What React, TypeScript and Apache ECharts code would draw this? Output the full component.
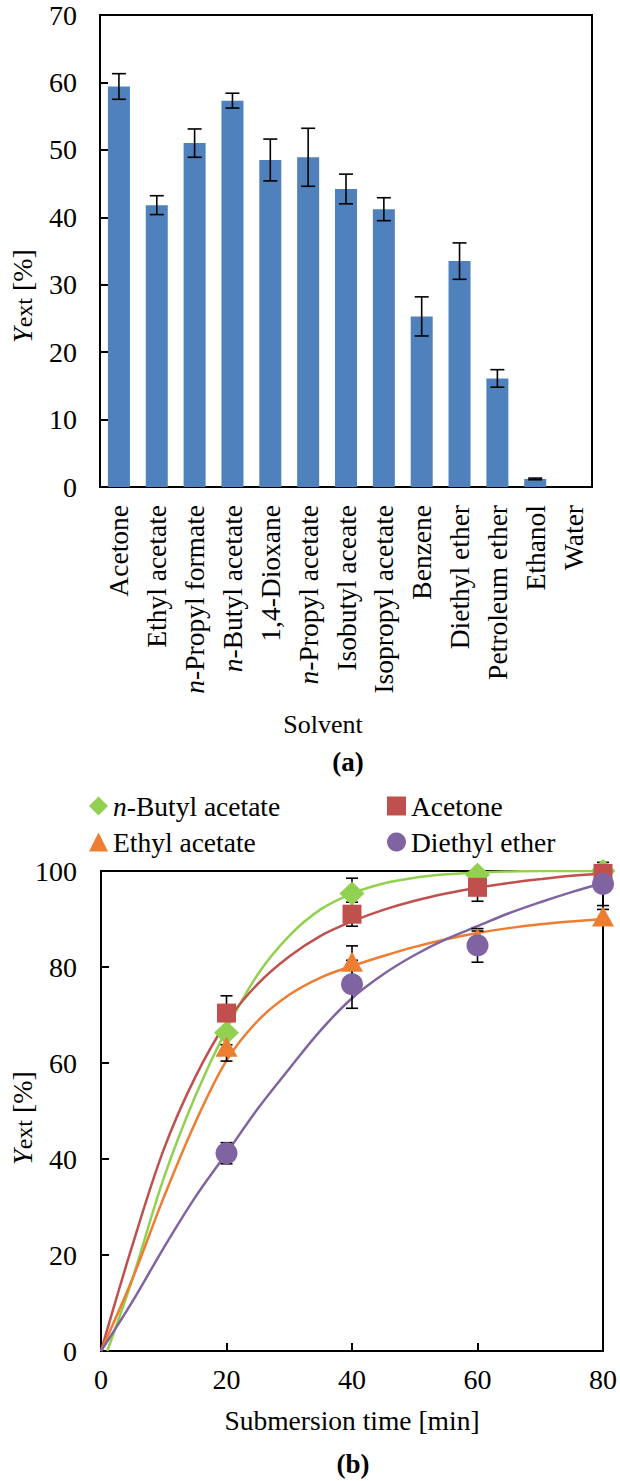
import React, { useEffect, useRef } from "react";
import * as echarts from "echarts";

// ---------- Panel (a): extraction yield by solvent ----------
const solvents = [
  "Acetone",
  "Ethyl acetate",
  "n-Propyl formate",
  "n-Butyl acetate",
  "1,4-Dioxane",
  "n-Propyl acetate",
  "Isobutyl aceate",
  "Isopropyl acetate",
  "Benzene",
  "Diethyl ether",
  "Petroleum ether",
  "Ethanol",
  "Water",
];
const yieldValues = [59.4, 41.8, 51.0, 57.3, 48.5, 48.9, 44.2, 41.2, 25.3, 33.5, 16.1, 1.2, 0];
const yieldErrors = [1.9, 1.4, 2.1, 1.1, 3.1, 4.3, 2.2, 1.7, 2.9, 2.7, 1.3, 0.12, 0];

// ---------- Panel (b): yield vs submersion time ----------
const timePoints = [20, 40, 60, 80];
const butylY = [66.3, 95.3, 99.2, 100];
const butylErr = [2.5, 3.2, 1.0, 0.3];
const acetoneY = [70.4, 91.0, 96.6, 99.5];
const acetoneErr = [3.6, 2.5, 2.9, 0.5];
const ethylY = [63.4, 81.1, 86.0, 90.5];
const ethylErr = [3.0, 3.3, 1.5, 1.5];
const etherY = [41.2, 76.4, 84.5, 97.3];
const etherErr = [2.2, 5.0, 3.5, 4.5];

// fitted curves (every 5 min)
const fitTimes = [0, 5, 10, 15, 20, 25, 30, 35, 40, 45, 50, 55, 60, 65, 70, 75, 80];
const butylFitTimes = [1, 5, 10, 15, 20, 25, 30, 35, 40, 45, 50, 55, 60, 65, 70, 75, 80];
const butylFit = [0, 15, 36, 53, 67, 78.5, 86.5, 92, 95.3, 97.4, 98.6, 99.3, 99.7, 99.9, 100, 100, 100];
const acetoneFit = [0, 22, 42, 57, 68.5, 76.5, 82.2, 86.5, 89.5, 91.9, 93.8, 95.3, 96.5, 97.5, 98.3, 99, 99.5];
const ethylFit = [0, 15, 32, 47.5, 60.5, 68.8, 74.2, 77.8, 80.2, 82.3, 84.2, 85.8, 87.1, 88.1, 88.9, 89.5, 90];
const etherFit = [0, 10.3, 21.5, 32, 41.2, 50.5, 58.8, 66.8, 73.5, 78.5, 82.5, 85.8, 88.5, 91.2, 93.5, 95.6, 97.5];

const FONT = "Liberation Serif";
const FS = 27.5;
const TFS = 28;
const GREEN = "#92D050";
const RED = "#C0504D";
const ORANGE = "#ED7D31";
const PURPLE = "#8064A2";
const BLUE = "#4F81BD";

const zip = (xs: number[], ys: number[]) => xs.map((x, i) => [x, ys[i]]);
const zip3 = (xs: number[], ys: number[], es: number[]) => xs.map((x, i) => [x, ys[i], es[i]]);

const errorBar = (capHalf: number) => (params: any, api: any) => {
  const x = api.value(0);
  const y = api.value(1);
  const e = api.value(2);
  const hi = api.coord([x, y + e]);
  const lo = api.coord([x, y - e]);
  const style = { stroke: "#000", lineWidth: 1.6 };
  return {
    type: "group",
    children: [
      { type: "line", shape: { x1: hi[0], y1: hi[1], x2: lo[0], y2: lo[1] }, style },
      { type: "line", shape: { x1: hi[0] - capHalf, y1: hi[1], x2: hi[0] + capHalf, y2: hi[1] }, style },
      { type: "line", shape: { x1: lo[0] - capHalf, y1: lo[1], x2: lo[0] + capHalf, y2: lo[1] }, style },
    ],
  };
};

const italicN = (v: string) => (v.startsWith("n-") ? "{i|n}-" + v.slice(2) : v);

const baseText = { fontFamily: FONT, fontSize: FS, color: "#000" };

export default function App() {
  const ref = useRef<HTMLDivElement>(null);
  useEffect(() => {
    document.body.style.margin = "0";
    if (!ref.current) return;
    const chart = echarts.init(ref.current, undefined, { renderer: "svg" });

    const axisLine = { show: true, lineStyle: { color: "#000", width: 2 } };
    const yRich = {
      i: { fontFamily: FONT, fontSize: 28, fontStyle: "italic", lineHeight: 32, verticalAlign: "bottom", color: "#000" },
      s: { fontFamily: FONT, fontSize: 24, lineHeight: 26, verticalAlign: "bottom", color: "#000" },
      r: { fontFamily: FONT, fontSize: 28, lineHeight: 32, verticalAlign: "bottom", color: "#000" },
    };

    const legendItem = (name: string, left: number, top: number, formatter?: any) => ({
      data: [name],
      left,
      top,
      orient: "horizontal",
      itemWidth: 19,
      itemHeight: 19,
      itemGap: 0,
      textStyle: {
        ...baseText,
        fontSize: 27.5,
        rich: { i: { fontFamily: FONT, fontSize: 27.5, fontStyle: "italic", color: "#000" } },
      },
      formatter: formatter || "{name}",
    });

    chart.setOption({
      animation: false,
      backgroundColor: "#fff",
      textStyle: { fontFamily: FONT },
      grid: [
        { left: 100, top: 15, width: 492, height: 472, show: true, borderColor: "#000", borderWidth: 2 },
        { left: 101, top: 871, width: 506, height: 480, show: true, borderColor: "#000", borderWidth: 2 },
      ],
      legend: [
        legendItem("n-Butyl acetate", 84, 787, () => "{i|n}-Butyl acetate"),
        legendItem("Acetone", 382, 787),
        legendItem("Ethyl acetate", 84, 823),
        legendItem("Diethyl ether", 382, 823),
      ],
      xAxis: [
        {
          type: "category",
          gridIndex: 0,
          data: solvents,
          axisLine,
          axisTick: { show: false },
          splitLine: { show: false },
          axisLabel: {
            ...baseText,
            rotate: 90,
            margin: 18,
            interval: 0,
            formatter: italicN,
            rich: { i: { fontFamily: FONT, fontSize: FS, fontStyle: "italic", color: "#000" } },
          },
        },
        {
          type: "value",
          gridIndex: 1,
          min: 0,
          max: 80,
          interval: 20,
          axisLine,
          axisTick: { show: true, inside: true, length: 8, lineStyle: { color: "#000", width: 2 } },
          splitLine: { show: false },
          axisLabel: { ...baseText, fontSize: TFS, margin: 14 },
          name: "Submersion time [min]",
          nameLocation: "middle",
          nameGap: 55,
          nameTextStyle: { ...baseText, fontSize: 27.5 },
        },
      ],
      yAxis: [
        {
          type: "value",
          gridIndex: 0,
          min: 0,
          max: 70,
          interval: 10,
          axisLine,
          axisTick: { show: true, inside: true, length: 8, lineStyle: { color: "#000", width: 2 } },
          splitLine: { show: false },
          axisLabel: { ...baseText, fontSize: TFS, margin: 23 },
        },
        {
          type: "value",
          gridIndex: 1,
          min: 0,
          max: 100,
          interval: 20,
          axisLine,
          axisTick: { show: true, inside: true, length: 8, lineStyle: { color: "#000", width: 2 } },
          splitLine: { show: false },
          axisLabel: { ...baseText, fontSize: TFS, margin: 24 },
        },
      ],
      graphic: [
        {
          type: "text",
          x: 20,
          y: 296,
          rotation: Math.PI / 2,
          style: {
            text: "{i|Y}{s|ext}{r| [%]}",
            rich: yRich,
            fill: "#000",
            align: "center",
            verticalAlign: "middle",
            fontFamily: FONT,
            fontSize: 28,
          },
        },
        {
          type: "text",
          x: 20,
          y: 1118,
          rotation: Math.PI / 2,
          style: {
            text: "{i|Y}{s|ext}{r| [%]}",
            rich: yRich,
            fill: "#000",
            align: "center",
            verticalAlign: "middle",
            fontFamily: FONT,
            fontSize: 28,
          },
        },
        {
          type: "text",
          x: 323,
          y: 724,
          style: { text: "Solvent", fill: "#000", fontFamily: FONT, fontSize: 26, align: "center", verticalAlign: "middle" },
        },
        {
          type: "text",
          x: 348,
          y: 762,
          style: { text: "(a)", fill: "#000", fontFamily: FONT, fontSize: 27, fontWeight: "bold", align: "center", verticalAlign: "middle" },
        },
        {
          type: "text",
          x: 353,
          y: 1464,
          style: { text: "(b)", fill: "#000", fontFamily: FONT, fontSize: 27, fontWeight: "bold", align: "center", verticalAlign: "middle" },
        },
      ],
      series: [
        {
          name: "Yield",
          type: "bar",
          xAxisIndex: 0,
          yAxisIndex: 0,
          data: yieldValues,
          barWidth: 22,
          itemStyle: { color: BLUE },
          z: 2,
        },
        {
          name: "Yield error",
          type: "custom",
          xAxisIndex: 0,
          yAxisIndex: 0,
          renderItem: errorBar(7),
          data: solvents.map((_, i) => [i, yieldValues[i], yieldErrors[i]]).filter((d) => d[2] > 0),
          z: 3,
        },
        // fitted curves
        ...[
          { n: "fit-butyl", t: butylFitTimes, y: butylFit, c: GREEN },
          { n: "fit-acetone", t: fitTimes, y: acetoneFit, c: RED },
          { n: "fit-ethyl", t: fitTimes, y: ethylFit, c: ORANGE },
          { n: "fit-ether", t: fitTimes, y: etherFit, c: PURPLE },
        ].map((f) => ({
          name: f.n,
          type: "line",
          xAxisIndex: 1,
          yAxisIndex: 1,
          data: zip(f.t, f.y),
          smooth: 0.35,
          showSymbol: false,
          symbol: "none",
          lineStyle: { color: f.c, width: 2.5 },
          z: 2,
        })),
        // error bars
        ...[
          { y: butylY, e: butylErr },
          { y: acetoneY, e: acetoneErr },
          { y: ethylY, e: ethylErr },
          { y: etherY, e: etherErr },
        ].map((s, k) => ({
          name: "err-" + k,
          type: "custom",
          xAxisIndex: 1,
          yAxisIndex: 1,
          renderItem: errorBar(6),
          data: zip3(timePoints, s.y, s.e),
          clip: false,
          z: 3,
        })),
        // markers
        {
          name: "n-Butyl acetate",
          type: "scatter",
          xAxisIndex: 1,
          yAxisIndex: 1,
          symbol: "diamond",
          symbolSize: [25, 24],
          itemStyle: { color: GREEN, opacity: 1 },
          data: zip(timePoints, butylY),
          clip: false,
          z: 4,
        },
        {
          name: "Acetone",
          type: "scatter",
          xAxisIndex: 1,
          yAxisIndex: 1,
          symbol: "rect",
          symbolSize: 19,
          itemStyle: { color: RED, opacity: 1 },
          data: zip(timePoints, acetoneY),
          clip: false,
          z: 4,
        },
        {
          name: "Ethyl acetate",
          type: "scatter",
          xAxisIndex: 1,
          yAxisIndex: 1,
          symbol: "triangle",
          symbolSize: [22, 20],
          itemStyle: { color: ORANGE, opacity: 1 },
          data: zip(timePoints, ethylY),
          clip: false,
          z: 4,
        },
        {
          name: "Diethyl ether",
          type: "scatter",
          xAxisIndex: 1,
          yAxisIndex: 1,
          symbol: "circle",
          symbolSize: 22,
          itemStyle: { color: PURPLE, opacity: 1 },
          data: zip(timePoints, etherY),
          clip: false,
          z: 4,
        },
      ],
    });
    return () => chart.dispose();
  }, []);
  return <div ref={ref} style={{ width: 620, height: 1481 }} />;
}
